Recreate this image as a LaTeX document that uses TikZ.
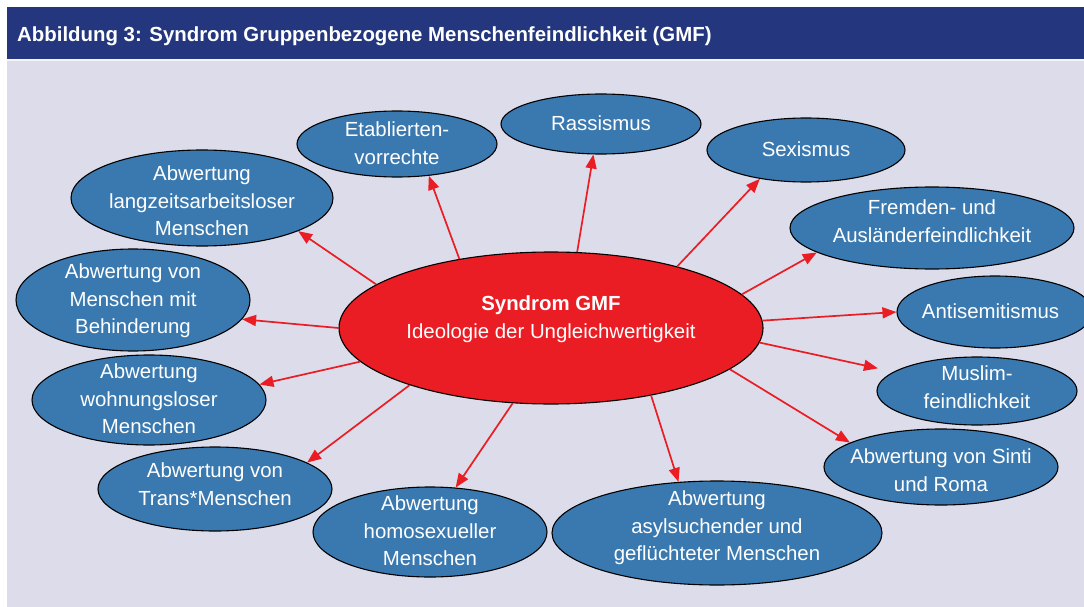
\documentclass[tikz,border=0pt]{standalone}
\usepackage{fontspec}
\setmainfont{Liberation Sans}
\usetikzlibrary{shapes.geometric,arrows.meta}

\definecolor{headBlue}{RGB}{35,54,126}
\definecolor{bgLilac}{RGB}{220,220,234}
\definecolor{grpBlue}{RGB}{58,121,176}
\definecolor{gmfRed}{RGB}{234,29,36}

% centred text that does not widen the ellipse
\newcommand\grpText[2][-6pt]{\makebox[0pt]{\raisebox{#1}[0pt][0pt]{\begin{tabular}{@{}c@{}}#2\end{tabular}}}}

\tikzset{
  grpNode/.style 2 args={ellipse, draw=black, line width=1.1pt, fill=grpBlue,
    text=white, inner sep=0pt, minimum width=#1, minimum height=#2},
  coreNode/.style={ellipse, draw=black, line width=1.1pt, fill=gmfRed,
    text=white, inner sep=0pt, minimum width=424pt, minimum height=152pt},
  arrowLine/.style={draw=gmfRed, line width=1.7pt, -{Triangle[length=14pt,width=11pt]}}
}

\begin{document}
\begin{tikzpicture}[x=1pt,y=-1pt,font=\fontsize{20.4}{27.5}\selectfont]
    \useasboundingbox (0,0) rectangle (1084,607);

    % background and title bar
    \fill[bgLilac] (7,59) rectangle (1084,607);
    \fill[headBlue] (7,7) rectangle (1084,59);
    \draw[white!70!bgLilac, line width=1.2pt] (7,60) -- (1084,60);
    \node[anchor=base west, text=white, inner sep=0pt,
      font=\fontsize{20.4}{27.5}\selectfont\bfseries] (title) at (17,42)
      {Abbildung 3: Syndrom Gruppenbezogene Menschenfeindlichkeit (GMF)};

    % centre
    \node[coreNode] (gmf) at (551,328)
      {\grpText[4pt]{\textbf{Syndrom GMF}\\Ideologie der Ungleichwertigkeit}};

    % groups
    \node[grpNode={200pt}{66pt}] (etab) at (397,144) {\grpText{Etablierten-\\vorrechte}};
    \node[grpNode={200pt}{60pt}] (rass) at (601,124) {\grpText{Rassismus}};
    \node[grpNode={198pt}{64pt}] (sex) at (806,150) {\grpText{Sexismus}};
    \node[grpNode={284pt}{82pt}] (frem) at (932,228) {\grpText[0pt]{Fremden- und\\Ausländerfeindlichkeit}};
    \node[grpNode={196pt}{72pt}] (anti) at (995,312) {\grpText{Antisemitismus\hspace*{9pt}}};
    \node[grpNode={200pt}{68pt}] (musl) at (977,391) {\grpText[-3pt]{Muslim-\\feindlichkeit}};
    \node[grpNode={234pt}{76pt}] (sinti) at (941,467) {\grpText[-10pt]{Abwertung von Sinti\\und Roma}};
    \node[grpNode={330pt}{104pt}] (asyl) at (717,533) {\grpText[0pt]{Abwertung\\asylsuchender und\\geflüchteter Menschen}};
    \node[grpNode={234pt}{90pt}] (homo) at (430,532) {\grpText{Abwertung\\homosexueller\\Menschen}};
    \node[grpNode={234pt}{84pt}] (trans) at (215,489) {\grpText[-2pt]{Abwertung von\\Trans*Menschen}};
    \node[grpNode={234pt}{90pt}] (wohn) at (149,400) {\grpText{Abwertung\\wohnungsloser\\Menschen}};
    \node[grpNode={234pt}{102pt}] (behin) at (133,300) {\grpText{Abwertung von\\Menschen mit\\Behinderung}};
    \node[grpNode={262pt}{96pt}] (langz) at (202,198) {\grpText[-10pt]{Abwertung\\langzeitsarbeitsloser\\Menschen}};

    % arrows
    \foreach \src/\dst/\gap in {166/langz.-19/0, 180/behin.-10/0, 190/wohn.8/0,
      202/trans.16/0, 243/homo.60/0, -34/asyl.127/0, -13/sinti.165/0,
      -4/musl.167/16, 2/anti.180/0, 10/frem.192/0, 26/sex.212/0,
      71/rass.-104/0, 143/etab.-45/0} {
      \draw[arrowLine, shorten >=\gap pt] (gmf.\src) -- (\dst);
    }
  \end{tikzpicture}
\end{document}
